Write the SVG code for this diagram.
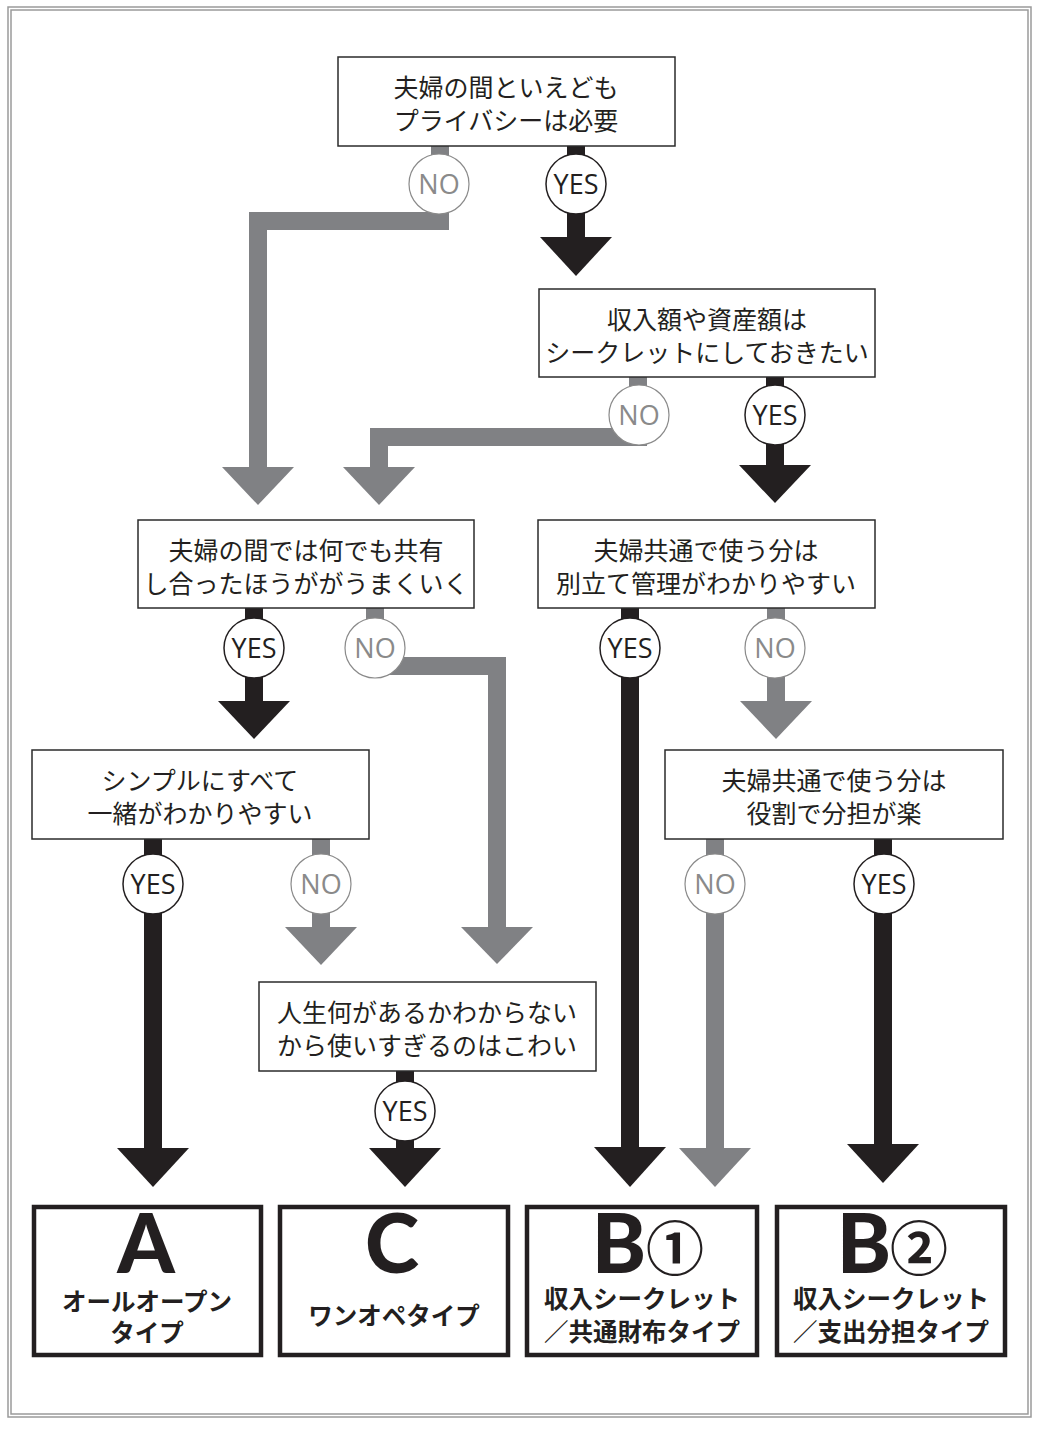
<svg xmlns="http://www.w3.org/2000/svg" width="1040" height="1431" viewBox="0 0 1040 1431">
<style>
.frame{fill:none;stroke:#9a9a9a;stroke-width:1.5}
.box{fill:#fff;stroke:#2b2b2b;stroke-width:1.5}
.rbox{fill:#fff;stroke:#231f20;stroke-width:4.5}
.jt{font-family:"Noto Sans CJK JP","Noto Sans",sans-serif;font-size:25px;fill:#231f20;text-anchor:middle;dominant-baseline:central}
.rt{font-family:"Noto Sans CJK JP","Noto Sans",sans-serif;font-size:24.5px;font-weight:700;fill:#231f20;text-anchor:middle;dominant-baseline:central}
.big{font-family:Lato,"Noto Sans",sans-serif;font-size:82px;font-weight:900;fill:#231f20;text-anchor:middle}
.circ{font-family:"Noto Sans CJK JP","Noto Sans",sans-serif;font-size:58px;font-weight:700;fill:#231f20;text-anchor:middle;dominant-baseline:central}
.g{fill:none;stroke:#808184;stroke-width:18;stroke-linejoin:miter}
.k{fill:none;stroke:#231f20;stroke-width:18;stroke-linejoin:miter}
.gh{fill:#808184}
.kh{fill:#231f20}
.yes circle{fill:#fff;stroke:#231f20;stroke-width:1.5}
.no circle{fill:#fff;stroke:#8a8a8a;stroke-width:1.2}
.yes text,.no text{font-family:"Open Sans","Noto Sans",sans-serif;font-size:27px;text-anchor:middle}
.yes text{fill:#231f20}
.no text{fill:#8a8a8a}
</style>
<rect class="frame" x="8" y="7" width="1023" height="1410"/>
<rect class="frame" x="11" y="10" width="1017" height="1404"/>

<g id="connectors">
  <polyline class="g" points="440,146 440,221 258,221 258,470"/>
  <polygon class="gh" points="222,467 294,467 258,505"/>
  <polyline class="k" points="576,146 576,240"/>
  <polygon class="kh" points="540,237 612,237 576,276"/>
  <polyline class="g" points="638,377 638,437 379,437 379,470"/>
  <polygon class="gh" points="343,467 415,467 379,505"/>
  <polyline class="k" points="775,377 775,468"/>
  <polygon class="kh" points="739,465 811,465 775,503"/>
  <polyline class="k" points="254,608 254,704"/>
  <polygon class="kh" points="218,701 290,701 254,739"/>
  <polyline class="g" points="375,608 375,666 497,666 497,930"/>
  <polygon class="gh" points="461,927 533,927 497,964"/>
  <polyline class="k" points="630,608 630,1150"/>
  <polygon class="kh" points="594,1147 666,1147 630,1187"/>
  <polyline class="g" points="776,608 776,704"/>
  <polygon class="gh" points="740,701 812,701 776,739"/>
  <polyline class="k" points="153,839 153,1151"/>
  <polygon class="kh" points="117,1148 189,1148 153,1187"/>
  <polyline class="g" points="321,839 321,930"/>
  <polygon class="gh" points="285,927 357,927 321,965"/>
  <polyline class="k" points="405,1071 405,1151"/>
  <polygon class="kh" points="369,1148 441,1148 405,1187"/>
  <polyline class="g" points="715,839 715,1151"/>
  <polygon class="gh" points="679,1148 751,1148 715,1187"/>
  <polyline class="k" points="883,839 883,1147"/>
  <polygon class="kh" points="847,1144 919,1144 883,1183"/>
</g>

<g id="labels">
  <g class="no"><circle cx="439" cy="184" r="30"/><text x="439" y="194">NO</text></g>
  <g class="yes"><circle cx="576" cy="184" r="30"/><text x="576" y="194">YES</text></g>
  <g class="no"><circle cx="639" cy="415" r="30"/><text x="639" y="425">NO</text></g>
  <g class="yes"><circle cx="775" cy="415" r="30"/><text x="775" y="425">YES</text></g>
  <g class="yes"><circle cx="254" cy="648" r="30"/><text x="254" y="658">YES</text></g>
  <g class="no"><circle cx="375" cy="648" r="30"/><text x="375" y="658">NO</text></g>
  <g class="yes"><circle cx="630" cy="648" r="30"/><text x="630" y="658">YES</text></g>
  <g class="no"><circle cx="775" cy="648" r="30"/><text x="775" y="658">NO</text></g>
  <g class="yes"><circle cx="153" cy="884" r="30"/><text x="153" y="894">YES</text></g>
  <g class="no"><circle cx="321" cy="884" r="30"/><text x="321" y="894">NO</text></g>
  <g class="yes"><circle cx="405" cy="1111" r="30"/><text x="405" y="1121">YES</text></g>
  <g class="no"><circle cx="715" cy="884" r="30"/><text x="715" y="894">NO</text></g>
  <g class="yes"><circle cx="884" cy="884" r="30"/><text x="884" y="894">YES</text></g>
</g>

<g id="q1"><rect class="box" x="338" y="57" width="337" height="89"/>
  <text class="jt" x="506" y="86">夫婦の間といえども</text>
  <text class="jt" x="506" y="119">プライバシーは必要</text></g>
<g id="q2"><rect class="box" x="539" y="289" width="336" height="88"/>
  <text class="jt" x="707" y="318">収入額や資産額は</text>
  <text class="jt" x="707" y="351">シークレットにしておきたい</text></g>
<g id="q3"><rect class="box" x="138" y="520" width="336" height="88"/>
  <text class="jt" x="306" y="549">夫婦の間では何でも共有</text>
  <text class="jt" x="306" y="582">し合ったほうががうまくいく</text></g>
<g id="q4"><rect class="box" x="538" y="520" width="337" height="88"/>
  <text class="jt" x="706" y="549">夫婦共通で使う分は</text>
  <text class="jt" x="706" y="582">別立て管理がわかりやすい</text></g>
<g id="q5"><rect class="box" x="32" y="750" width="337" height="89"/>
  <text class="jt" x="200" y="779">シンプルにすべて</text>
  <text class="jt" x="200" y="812">一緒がわかりやすい</text></g>
<g id="q6"><rect class="box" x="259" y="982" width="337" height="89"/>
  <text class="jt" x="427" y="1011">人生何があるかわからない</text>
  <text class="jt" x="427" y="1044">から使いすぎるのはこわい</text></g>
<g id="q7"><rect class="box" x="665" y="750" width="338" height="89"/>
  <text class="jt" x="834" y="779">夫婦共通で使う分は</text>
  <text class="jt" x="834" y="812">役割で分担が楽</text></g>

<g id="resA"><rect class="rbox" x="34" y="1207" width="227" height="148"/>
  <text class="big" x="146" y="1273">A</text>
  <text class="rt" x="147" y="1300">オールオープン</text>
  <text class="rt" x="147" y="1331">タイプ</text></g>
<g id="resC"><rect class="rbox" x="280" y="1207" width="228" height="148"/>
  <text class="big" x="392" y="1273">C</text>
  <text class="rt" x="394" y="1314">ワンオペタイプ</text></g>
<g id="resB1"><rect class="rbox" x="527" y="1207" width="230" height="148"/>
  <text class="big" x="619" y="1273">B</text>
  <text class="circ" x="675" y="1245">①</text>
  <text class="rt" x="642" y="1297">収入シークレット</text>
  <text class="rt" x="642" y="1330">／共通財布タイプ</text></g>
<g id="resB2"><rect class="rbox" x="777" y="1207" width="228" height="148"/>
  <text class="big" x="864" y="1273">B</text>
  <text class="circ" x="919" y="1245">②</text>
  <text class="rt" x="891" y="1297">収入シークレット</text>
  <text class="rt" x="891" y="1330">／支出分担タイプ</text></g>
</svg>
